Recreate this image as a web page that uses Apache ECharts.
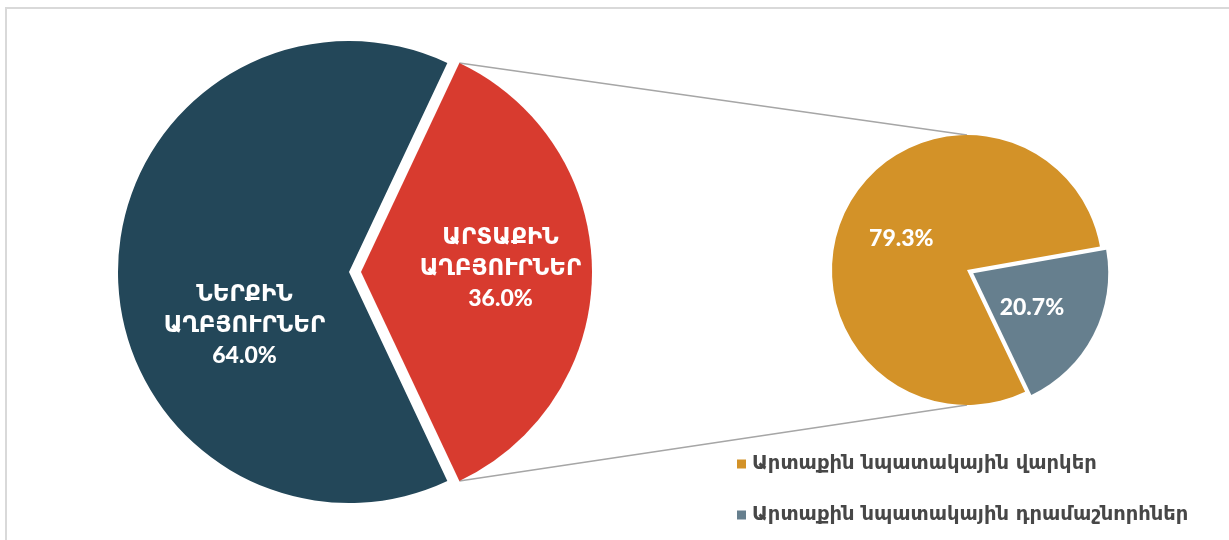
<!DOCTYPE html>
<html lang="hy">
<head>
  <meta charset="utf-8"/>
  <title>Pie of pie</title>
  <script src="https://cdn.jsdelivr.net/npm/echarts@6/dist/echarts.min.js"></script>
  <style>
    html, body { margin: 0; padding: 0; background: #fff; }
    #chart { width: 1229px; height: 540px; }
  </style>
</head>
<body>
<div id="chart"></div>
<script>
  // main pie: internal vs external sources
  var mainNames = ['ՆԵՐՔԻՆ\nԱՂԲՅՈՒՐՆԵՐ', 'ԱՐՏԱՔԻՆ\nԱՂԲՅՈՒՐՆԵՐ'];
  var mainValues = [64.0, 36.0];
  var mainColors = ['#234759', '#D83B2F'];

  // breakdown of the external part
  var subNames = ['Արտաքին նպատակային վարկեր', 'Արտաքին նպատակային դրամաշնորհներ'];
  var subValues = [79.3, 20.7];
  var subColors = ['#D39228', '#667F8E'];

  var big = { cx: 349, cy: 272, r: 231, offset: 12 };
  var small = { cx: 967, cy: 270, r: 135, offset: 7 };

  var total = mainValues[0] + mainValues[1];
  var halfExt = 180 * mainValues[1] / total;   // half angle of the red slice

  var labelFont = 'Lato, "DejaVu Sans", sans-serif';

  var chart = echarts.init(document.getElementById('chart'));

  // connector lines from the red slice to the small pie
  var a = halfExt * Math.PI / 180;
  var redCx = big.cx + big.offset;
  var p1 = [redCx + big.r * Math.cos(a), big.cy - big.r * Math.sin(a)];
  var p2 = [redCx + big.r * Math.cos(a), big.cy + big.r * Math.sin(a)];
  var q1 = [small.cx, small.cy - small.r];
  var q2 = [small.cx, small.cy + small.r];

  var option = {
    animation: false,
    backgroundColor: '#fff',
    legend: {
      data: subNames,
      orient: 'vertical',
      left: 732,
      top: 449,
      itemWidth: 9,
      itemHeight: 9,
      itemGap: 31,
      icon: 'rect',
      selectedMode: false,
      textStyle: {
        fontFamily: '"DejaVu Sans", sans-serif',
        fontSize: 19.5,
        fontWeight: 'bold',
        color: '#474747',
        padding: [0, 0, 0, 1]
      }
    },
    graphic: [
      {
        type: 'rect', silent: true, z: -1,
        shape: { x: 6, y: 8, width: 1240, height: 560 },
        style: { fill: 'none', stroke: '#D9D9D9', lineWidth: 2 }
      },
      {
        type: 'line', silent: true,
        shape: { x1: p1[0], y1: p1[1], x2: q1[0], y2: q1[1] },
        style: { stroke: '#A6A6A6', lineWidth: 1.5 }
      },
      {
        type: 'line', silent: true,
        shape: { x1: p2[0], y1: p2[1], x2: q2[0], y2: q2[1] },
        style: { stroke: '#A6A6A6', lineWidth: 1.5 }
      }
    ],
    series: [
      {
        type: 'pie',
        center: [big.cx, big.cy],
        radius: big.r,
        startAngle: 360 - halfExt,
        clockwise: true,
        selectedMode: 'multiple',
        selectedOffset: big.offset,
        avoidLabelOverlap: false,
        emphasis: { disabled: true },
        label: {
          position: 'inside',
          color: '#fff',
          fontFamily: labelFont,
          fontSize: 23,
          fontWeight: 900,
          lineHeight: 31,
          formatter: function (p) {
            return p.name + '\n' + p.value.toFixed(1) + '%';
          }
        },
        labelLine: { show: false },
        labelLayout: function (p) {
          if (p.dataIndex === 0) return { dx: 14, dy: 53 };
          return { dx: 21, dy: -4 };
        },
        data: mainNames.map(function (n, i) {
          return {
            name: n, value: mainValues[i], selected: i === 1,
            itemStyle: { color: mainColors[i] }
          };
        })
      },
      {
        type: 'pie',
        center: [small.cx, small.cy],
        radius: small.r,
        startAngle: 295.5,
        clockwise: true,
        selectedMode: 'multiple',
        selectedOffset: small.offset,
        avoidLabelOverlap: false,
        emphasis: { disabled: true },
        label: {
          position: 'inside',
          color: '#fff',
          fontFamily: labelFont,
          fontSize: 23,
          fontWeight: 900,
          formatter: function (p) {
            return p.value.toFixed(1) + '%';
          }
        },
        labelLine: { show: false },
        labelLayout: function (p) {
          if (p.dataIndex === 0) return { dx: -3, dy: 1 };
          return { dx: -4, dy: 2 };
        },
        data: subNames.map(function (n, i) {
          return {
            name: n, value: subValues[i], selected: i === 1,
            itemStyle: { color: subColors[i] }
          };
        })
      }
    ]
  };

  chart.setOption(option);
</script>
</body>
</html>
